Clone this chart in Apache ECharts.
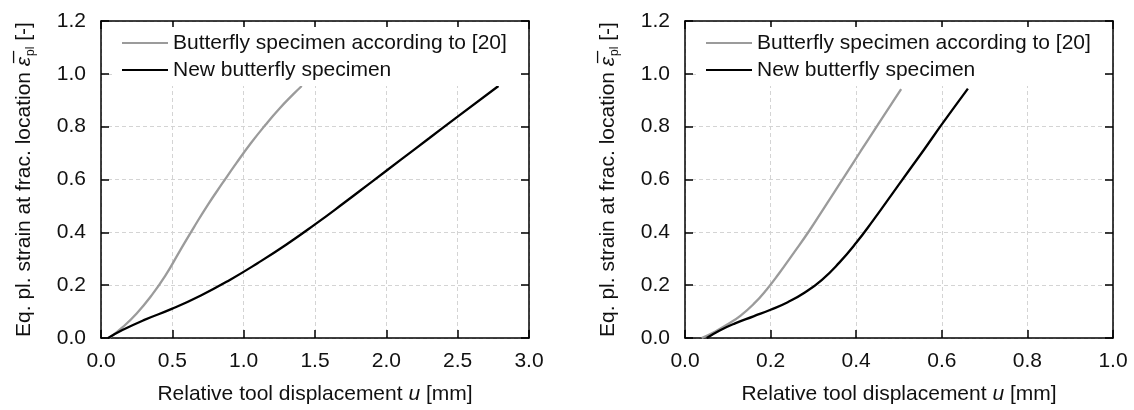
<!DOCTYPE html>
<html><head><meta charset="utf-8">
<script src="https://cdn.jsdelivr.net/npm/echarts@6/dist/echarts.min.js"></script>
<style>html,body{margin:0;padding:0;background:#fff}#c{width:1134px;height:410px}</style>
</head><body><div id="c"></div>
<script>
// ----- data -----
var seriesNames = ['Butterfly specimen according to [20]', 'New butterfly specimen'];
// left panel
var leftGrayU  = [0.058, 0.15, 0.25, 0.35, 0.45, 0.55, 0.65, 0.75, 0.85, 0.95, 1.05, 1.15, 1.25, 1.35, 1.407];
var leftGrayV  = [0.0, 0.04, 0.093, 0.158, 0.235, 0.327, 0.418, 0.505, 0.585, 0.663, 0.737, 0.805, 0.868, 0.924, 0.954];
var leftBlackU = [0.05, 0.15, 0.3, 0.5, 0.7, 0.9, 1.1, 1.3, 1.5, 1.7, 1.9, 2.1, 2.3, 2.5, 2.786];
var leftBlackV = [0.0, 0.03, 0.0675, 0.111, 0.161, 0.219, 0.284, 0.354, 0.43, 0.51, 0.592, 0.674, 0.756, 0.838, 0.954];
// right panel
var rightGrayU  = [0.039, 0.07, 0.1, 0.13, 0.16, 0.19, 0.22, 0.25, 0.29, 0.33, 0.37, 0.41, 0.45, 0.505];
var rightGrayV  = [0.0, 0.024, 0.052, 0.085, 0.128, 0.182, 0.245, 0.313, 0.405, 0.505, 0.605, 0.706, 0.806, 0.942];
var rightBlackU = [0.051, 0.08, 0.117, 0.16, 0.2, 0.24, 0.28, 0.32, 0.36, 0.4, 0.44, 0.48, 0.52, 0.56, 0.6, 0.661];
var rightBlackV = [0.0, 0.0276, 0.0553, 0.082, 0.1068, 0.1356, 0.1724, 0.2204, 0.2844, 0.3604, 0.4464, 0.5364, 0.6264, 0.7164, 0.8084, 0.944];
// axes
var leftXMax = 3.0, leftXStep = 0.5;
var rightXMax = 1.0, rightXStep = 0.2;
var yMax = 1.2, yStep = 0.2;

function pairs(u, v) { return u.map(function (x, i) { return [x, v[i]]; }); }

var FONT = '"Liberation Sans", Arial, sans-serif';
var FS = 21;
var grids = [
  { left: 101, width: 428, top: 21, height: 324 },
  { left: 685, width: 428, top: 21, height: 324 }
];

function xAxes(gi, max, step) {
  var base = {
    type: 'value', gridIndex: gi, min: 0, max: max, interval: step,
    axisLine: { show: true, onZero: false, lineStyle: { color: '#000', width: 1.5 } },
    axisTick: { show: true, inside: true, length: 8, lineStyle: { color: '#000', width: 1.5 } }
  };
  return [
    Object.assign({}, base, {
      position: 'bottom',
      name: '{n|Relative tool displacement }{i|u}{n| [mm]}',
      nameLocation: 'middle', nameGap: 46,
      nameTextStyle: { rich: {
        n: { fontFamily: FONT, fontSize: FS, color: '#111' },
        i: { fontFamily: FONT, fontSize: FS, color: '#111', fontStyle: 'italic' } } },
      axisLabel: { fontFamily: FONT, fontSize: FS, color: '#111', margin: 13, formatter: function (v) { return v.toFixed(1); } },
      splitLine: { show: true, lineStyle: { color: '#d4d4d4', type: [4, 3], width: 1 } }
    }),
    Object.assign({}, base, {
      position: 'top', axisLabel: { show: false }, splitLine: { show: false }
    })
  ];
}
function yAxes(gi) {
  var base = {
    type: 'value', gridIndex: gi, min: 0, max: yMax, interval: yStep,
    axisLine: { show: true, onZero: false, lineStyle: { color: '#000', width: 1.5 } },
    axisTick: { show: true, inside: true, length: 8, lineStyle: { color: '#000', width: 1.5 } }
  };
  return [
    Object.assign({}, base, {
      position: 'left',
      name: '{n|Eq. pl. strain at frac. location }{e|ε̅}{s|pl}{n| [-]}',
      nameLocation: 'middle', nameGap: 64, nameRotate: 90,
      nameTextStyle: { rich: {
        n: { fontFamily: FONT, fontSize: FS, color: '#111' },
        e: { fontFamily: FONT, fontSize: FS, color: '#111', fontStyle: 'italic' },
        s: { fontFamily: FONT, fontSize: 12, color: '#111', padding: [14, 0, 0, 1] } } },
      axisLabel: { fontFamily: FONT, fontSize: FS, color: '#111', margin: 15, formatter: function (v) { return v.toFixed(1); } },
      splitLine: { show: true, lineStyle: { color: '#d4d4d4', type: [4, 3], width: 1 } }
    }),
    Object.assign({}, base, {
      position: 'right', axisLabel: { show: false }, splitLine: { show: false }
    })
  ];
}

function legend(left) {
  return {
    left: left, top: 27, orient: 'vertical',
    backgroundColor: '#fff', padding: [5, 12, 5, 10],
    icon: 'rect', itemWidth: 46, itemHeight: 2.2, itemGap: 5,
    textStyle: { fontFamily: FONT, fontSize: FS, color: '#111', lineHeight: 22 },
    data: seriesNames
  };
}

function line(name, data, xi, yi, color) {
  return {
    type: 'line', name: name, data: data, xAxisIndex: xi, yAxisIndex: yi,
    symbol: 'none', smooth: 0.5, z: 3,
    lineStyle: { color: color, width: 2.3 }, itemStyle: { color: color }
  };
}

var GRAY = '#9b9b9b', BLACK = '#000';
var option = {
  backgroundColor: '#fff',
  animation: false,
  grid: grids,
  xAxis: xAxes(0, leftXMax, leftXStep).concat(xAxes(1, rightXMax, rightXStep)),
  yAxis: yAxes(0).concat(yAxes(1)),
  legend: [legend(112), legend(696)],
  series: [
    line(seriesNames[0], pairs(leftGrayU, leftGrayV), 0, 0, GRAY),
    line(seriesNames[1], pairs(leftBlackU, leftBlackV), 0, 0, BLACK),
    line(seriesNames[0], pairs(rightGrayU, rightGrayV), 2, 2, GRAY),
    line(seriesNames[1], pairs(rightBlackU, rightBlackV), 2, 2, BLACK)
  ]
};
var chart = echarts.init(document.getElementById('c'), null, { renderer: 'canvas' });
chart.setOption(option);
</script></body></html>
